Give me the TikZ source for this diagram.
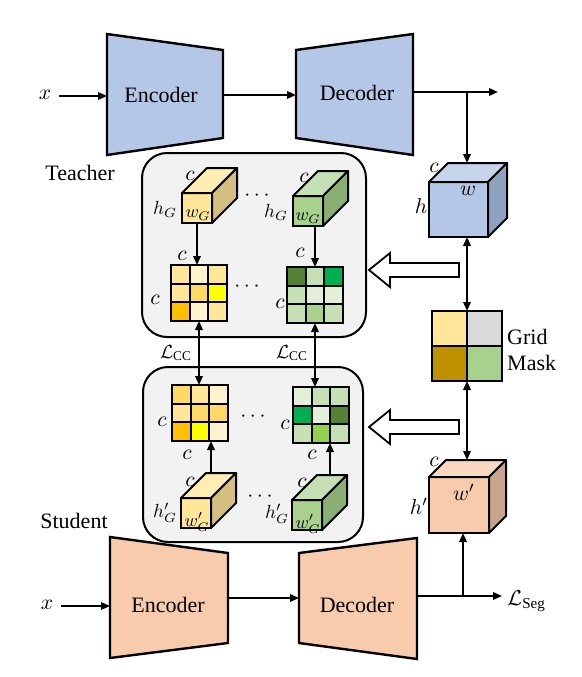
\documentclass[tikz,border=0pt]{standalone}
\usepackage{fontspec}
\setmainfont{Liberation Serif}
\usetikzlibrary{arrows.meta,calc}
\definecolor{panelgray}{HTML}{F2F2F2}
\definecolor{encblue}{HTML}{B4C7E7}
\definecolor{encsal}{HTML}{F8CBAD}
\definecolor{yA}{HTML}{FFF2CC}
\definecolor{yB}{HTML}{FFE699}
\definecolor{yC}{HTML}{FFD966}
\definecolor{yD}{HTML}{FFC000}
\definecolor{yE}{HTML}{FFFF00}
\definecolor{gA}{HTML}{E2F0D9}
\definecolor{gB}{HTML}{C5E0B4}
\definecolor{gC}{HTML}{A9D18E}
\definecolor{gD}{HTML}{92D050}
\definecolor{gE}{HTML}{00B050}
\definecolor{gF}{HTML}{548235}
\definecolor{mgray}{HTML}{D9D9D9}
\definecolor{mgold}{HTML}{BF9000}
\definecolor{cyF}{HTML}{FFE699}
\definecolor{cyT}{HTML}{FFEDB3}
\definecolor{cyS}{HTML}{D4BF82}
\definecolor{cgF}{HTML}{A9D18E}
\definecolor{cgT}{HTML}{C5E0B4}
\definecolor{cgS}{HTML}{8BAF73}
\definecolor{cbF}{HTML}{B4C7E7}
\definecolor{cbT}{HTML}{C6D4EC}
\definecolor{cbS}{HTML}{8EA2BF}
\definecolor{csF}{HTML}{F8CBAD}
\definecolor{csT}{HTML}{FAD7C0}
\definecolor{csS}{HTML}{C9A48C}
\newcommand\mycube[8]{%
  \node[draw, line width=2pt, fill=#6, minimum width=#3, minimum height=#4, inner sep=0, outer sep=0] (#1) at #2 {};
  \draw[line width=2pt, fill=#7, line join=round] (#1.north west) -- ++(#5,-#5) -- ++(#3,0) -- (#1.north east) -- cycle;
  \draw[line width=2pt, fill=#8, line join=round] (#1.north east) -- ++(#5,-#5) -- ++(0,#4) -- (#1.south east) -- cycle;
  \coordinate (#1-bk) at ($(#1.north west)+(#5,-#5)$);
}
\newcommand\mygrid[3]{%
  \node[inner sep=0, outer sep=0, minimum size=56] (#1) at #2 {};
  \foreach \cl [count=\i from 0] in {#3} {
    \pgfmathtruncatemacro\gr{\i/3}
    \pgfmathtruncatemacro\gc{\i-3*\gr}
    \filldraw[fill=\cl, draw=black, line width=2pt] ($(#1.north west)+(\gc*56/3,\gr*56/3)$) rectangle ++(56/3,56/3);
  }
}
\tikzset{
  arr/.style={line width=1.8pt, -{Triangle[length=9pt,width=7.5pt]}},
  darr/.style={line width=1.8pt, {Triangle[length=9pt,width=7.5pt]}-{Triangle[length=9pt,width=7.5pt]}},
  trap/.style={line width=2.4pt, line join=miter},
  lbl/.style={inner sep=0, scale=2.15},
  hlbl/.style={inner sep=0, scale=1.9},
  sml/.style={inner sep=0, scale=1.8},
  txt/.style={inner sep=0, font=\fontsize{22}{26}\selectfont},
  panel/.style={draw, line width=2pt, fill=panelgray, rounded corners=25pt, inner sep=0, outer sep=0},
  hollow/.style={line width=1.8pt, fill=white, line join=miter},
}
\begin{document}
\begin{tikzpicture}[x=1pt,y=-1pt]
\useasboundingbox (0,0) rectangle (581,677);
\fill[white] (0,0) rectangle (581,677);

% ---------- teacher network ----------
\draw[trap, fill=encblue] (107,34) -- (223,50) -- (223,138) -- (107,155) -- cycle;
\draw[trap, fill=encblue] (296,50) -- (413,34) -- (413,155) -- (296,138) -- cycle;
\node[txt] (tenc) at (161,95) {Encoder};
\node[txt] (tdec) at (357,93) {Decoder};
\node[lbl] (tx) at (45,95) {$x$};
\coordinate (tenc-in) at (107,96);
\coordinate (tenc-out) at (223,95);
\coordinate (tdec-in) at (296,95);
\coordinate (tdec-out) at (413,92);
\coordinate (tout) at (498,92);
\coordinate (tbr) at (467,92);
\coordinate (tx-s) at (59,96);
\draw[arr] (tx-s) -- (tenc-in);
\draw[arr] (tenc-out) -- (tdec-in);
\draw[arr] (tdec-out) -- (tout);

% ---------- student network ----------
\draw[trap, fill=encsal] (110,537) -- (228,553) -- (228,643) -- (110,658) -- cycle;
\draw[trap, fill=encsal] (299,553) -- (417,538) -- (417,659) -- (299,643) -- cycle;
\node[txt] (senc) at (168,605) {Encoder};
\node[txt] (sdec) at (357,605) {Decoder};
\node[lbl] (sx) at (47,605) {$x$};
\coordinate (senc-in) at (110,606);
\coordinate (sx-s) at (61,606);
\coordinate (senc-out) at (228,598);
\coordinate (sdec-in) at (299,598);
\coordinate (sdec-out) at (417,596);
\coordinate (sout) at (502,596);
\coordinate (sbr) at (463,596);
\draw[arr] (sx-s) -- (senc-in);
\draw[arr] (senc-out) -- (sdec-in);
\draw[arr] (sdec-out) -- (sout);
\node[lbl, anchor=west] (lseg) at (507,601) {$\mathcal{L}_{\mathrm{Seg}}$};

% ---------- labels ----------
\node[txt] (tlabel) at (80,173) {Teacher};
\node[txt] (slabel) at (74,521) {Student};

% ---------- panels ----------
\node[panel, minimum width=224, minimum height=184] (tpanel) at (254,245) {};
\node[panel, minimum width=220, minimum height=175] (spanel) at (253,454.5) {};

% ---------- teacher panel content ----------
\mycube{tyc}{(197,208)}{30}{30}{25}{cyF}{cyT}{cyS}
\mycube{tgc}{(308,211)}{30}{30}{25}{cgF}{cgT}{cgS}
\mygrid{tyg}{(199,293)}{yB,yA,yB,yB,yC,yE,yD,yA,yB}
\mygrid{tgg}{(315,295)}{gF,gB,gE,gB,gA,gA,gB,gC,gB}
\node[lbl] (tyc-c) at (190,176) {$c$};
\node[hlbl] (tyc-h) at (165,209) {$h_G$};
\node[sml] (tyc-w) at (198,215) {$w_G$};
\node[lbl] (tgc-c) at (304,178) {$c$};
\node[hlbl] (tgc-h) at (276,212) {$h_G$};
\node[sml] (tgc-w) at (308,218) {$w_G$};
\node[lbl] (tdots1) at (257,196) {$\cdots$};
\node[lbl] (tdots2) at (247,287) {$\cdots$};
\node[lbl] (tyg-c1) at (182,256) {$c$};
\node[lbl] (tyg-c2) at (155,300) {$c$};
\node[lbl] (tgg-c1) at (300,253) {$c$};
\node[lbl] (tgg-c2) at (280,304) {$c$};
\draw[arr] (tyc.south) -- (tyc.south |- tyg.north);
\draw[arr] (tgc.south -| tgg.north) -- (tgg.north);

% ---------- student panel content ----------
\mygrid{syg}{(200,413)}{yC,yB,yA,yB,yC,yC,yD,yE,yA}
\mygrid{sgg}{(321,415)}{gA,gB,gB,gE,gA,gF,gB,gD,gB}
\mycube{syc}{(196,513)}{30}{30}{25}{cyF}{cyT}{cyS}
\mycube{sgc}{(307,515)}{30}{30}{25}{cgF}{cgT}{cgS}
\node[lbl] (syc-c) at (190,482) {$c$};
\node[hlbl] (syc-h) at (165,513) {$h'_G$};
\node[sml] (syc-w) at (197,522) {$w'_G$};
\node[lbl] (sgc-c) at (302,483) {$c$};
\node[hlbl] (sgc-h) at (277,514) {$h'_G$};
\node[sml] (sgc-w) at (308,524) {$w'_G$};
\node[lbl] (sdots1) at (253,417) {$\cdots$};
\node[lbl] (sdots2) at (260,497) {$\cdots$};
\node[lbl] (syg-c1) at (162,422) {$c$};
\node[lbl] (syg-c2) at (187,455) {$c$};
\node[lbl] (sgg-c1) at (285,425) {$c$};
\node[lbl] (sgg-c2) at (312,455) {$c$};
\coordinate (syc-a) at ($(syc-bk)+(5,0)$);
\coordinate (sgc-a) at ($(sgc-bk)+(13,0)$);
\draw[arr] (syc-a) -- (syc-a |- syg.south);
\draw[arr] (sgc-a) -- (sgc-a |- sgg.south);

% ---------- L_CC ----------
\draw[darr] (tyg.south) -- (tyg.south |- syg.north);
\draw[darr] (tgg.south) -- (tgg.south |- sgg.north);
\node[hlbl] (lcc1) at (176,353) {$\mathcal{L}_{\mathrm{CC}}$};
\node[hlbl] (lcc2) at (292,353) {$\mathcal{L}_{\mathrm{CC}}$};

% ---------- right column ----------
\mycube{bcube}{(458.5,209.5)}{59}{55}{19}{cbF}{cbT}{cbS}
\mycube{scube}{(459,505)}{60}{56}{17}{csF}{csT}{csS}
\node[inner sep=0, outer sep=0, minimum size=70] (gm) at (467,346) {};
\filldraw[fill=yB, draw=black, line width=2pt] (gm.north west) rectangle (gm.center);
\filldraw[fill=mgray, draw=black, line width=2pt] (gm.north) rectangle (gm.east);
\filldraw[fill=mgold, draw=black, line width=2pt] (gm.west) rectangle (gm.south);
\filldraw[fill=gC, draw=black, line width=2pt] (gm.center) rectangle (gm.south east);
\node[txt, align=left, anchor=west] (gmlbl) at (507,350) {Grid\\Mask};
\node[lbl] (bc-c) at (434,168) {$c$};
\node[lbl] (bc-h) at (421,206) {$h$};
\node[lbl] (bc-w) at (468,191) {$w$};
\node[lbl] (sc-c) at (434,462) {$c$};
\node[lbl] (sc-h) at (419,506) {$h'$};
\node[lbl] (sc-w) at (464,492) {$w'$};
\draw[arr] (tbr) -- (tbr |- bcube-bk);
\draw[darr] (gm.north |- bcube.south) -- (gm.north);
\draw[darr] (gm.south) -- (gm.south |- scube-bk);
\draw[arr] (sbr) -- (sbr |- scube.south);

% ---------- hollow arrows ----------
\draw[hollow] (369,270) -- (390,253) -- (390,263) -- (459,263) -- (459,277) -- (390,277) -- (390,287) -- cycle;
\draw[hollow] (369,427) -- (390,410) -- (390,420) -- (459,420) -- (459,434) -- (390,434) -- (390,444) -- cycle;
\end{tikzpicture}
\end{document}
